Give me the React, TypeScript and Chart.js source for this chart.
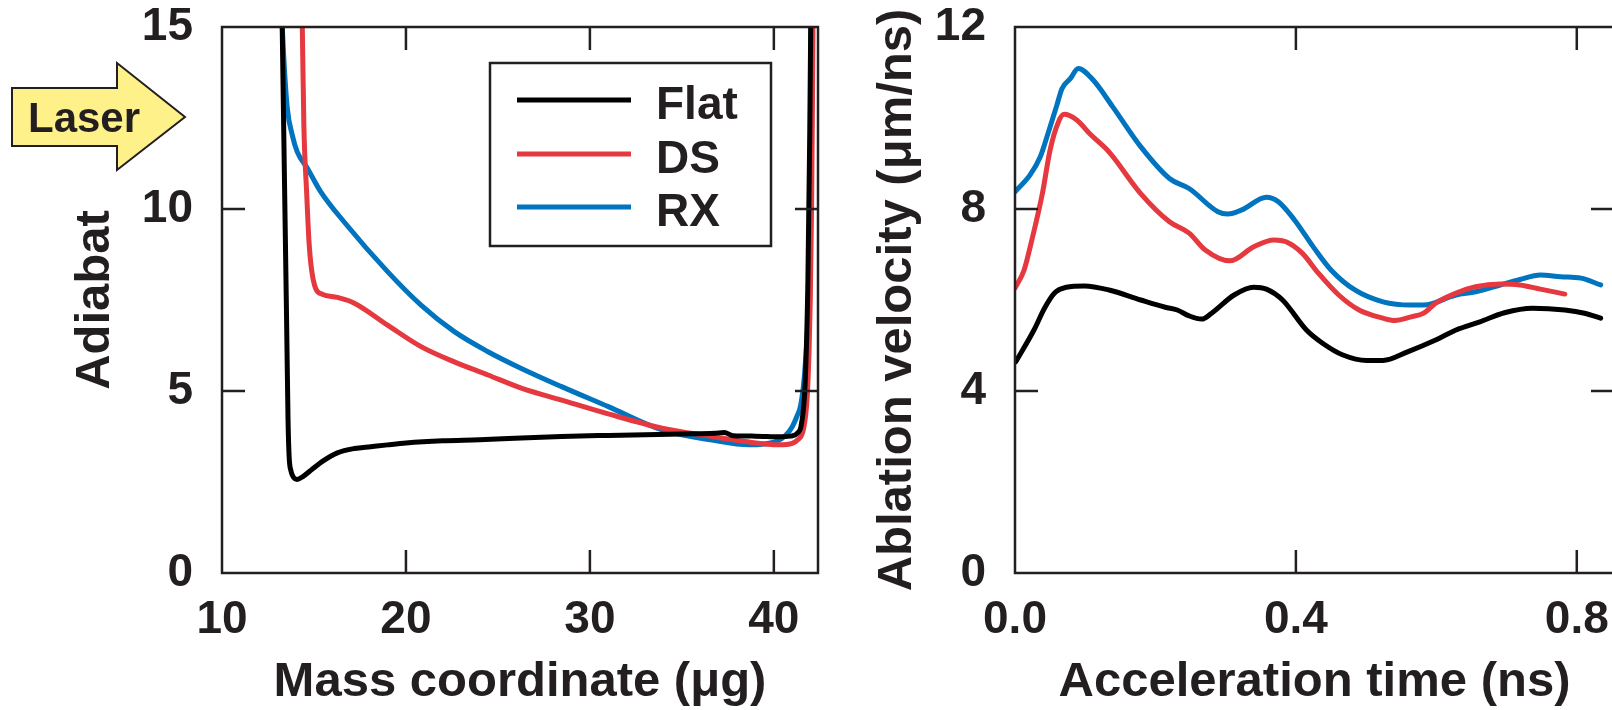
import React, { useEffect, useRef } from "react";
import { Chart, registerables } from "chart.js";

Chart.register(...registerables);

const INK = "#231F20";
const FONT = "'Liberation Sans', Arial, Helvetica, sans-serif";

// ---------- Left panel: adiabat vs mass coordinate ----------
const flatMass = [13.25, 13.39, 13.51, 13.59, 13.65, 13.75, 13.9, 14.08, 14.4, 14.9, 15.5, 16.27, 17.2, 18.09, 19.0, 20.0, 22.0, 24.0, 26.27, 28.46, 31.0, 33.0, 35.0, 36.8, 37.3, 37.8, 39.0, 40.3, 40.9, 41.3, 41.5, 41.7, 41.85, 41.95, 42.02];
const flatAdiabat = [15.8, 11.0, 7.0, 4.2, 3.2, 2.8, 2.62, 2.57, 2.65, 2.85, 3.08, 3.3, 3.42, 3.47, 3.52, 3.57, 3.63, 3.66, 3.71, 3.75, 3.78, 3.8, 3.82, 3.84, 3.86, 3.77, 3.76, 3.74, 3.76, 3.85, 4.1, 5.2, 8.0, 12.0, 16.0];

const dsMass = [14.36, 14.45, 14.6, 14.73, 14.86, 15.09, 15.45, 16.27, 17.17, 19.0, 20.82, 22.63, 24.46, 26.27, 28.46, 31.0, 33.92, 36.64, 38.44, 40.28, 41.0, 41.3, 41.56, 41.72, 41.82, 41.92, 41.98, 42.05, 42.1, 42.14];
const dsAdiabat = [15.2, 12.3, 10.47, 9.1, 8.37, 7.82, 7.66, 7.57, 7.42, 6.81, 6.22, 5.8, 5.44, 5.08, 4.75, 4.37, 3.98, 3.75, 3.61, 3.52, 3.56, 3.66, 3.85, 4.3, 4.9, 6.2, 7.5, 10.0, 13.0, 16.0];

const rxMass = [13.25, 13.36, 13.55, 13.82, 14.09, 14.64, 15.36, 16.63, 19.0, 20.82, 22.63, 24.46, 26.27, 28.46, 31.0, 33.92, 36.64, 38.64, 40.1, 40.6, 41.0, 41.25, 41.44, 41.6, 41.7, 41.82, 41.9, 41.96, 42.0, 42.03];
const rxAdiabat = [15.3, 14.14, 12.77, 12.03, 11.57, 11.12, 10.48, 9.65, 8.28, 7.36, 6.63, 6.08, 5.62, 5.12, 4.57, 3.93, 3.65, 3.52, 3.61, 3.76, 4.02, 4.3, 4.57, 5.1, 5.67, 6.6, 7.5, 10.0, 13.0, 16.0];

// ---------- Right panel: ablation velocity vs acceleration time ----------
const flatTime = [0.001, 0.027, 0.042, 0.056, 0.073, 0.099, 0.134, 0.179, 0.214, 0.231, 0.248, 0.266, 0.28, 0.312, 0.34, 0.358, 0.381, 0.415, 0.438, 0.467, 0.501, 0.524, 0.559, 0.599, 0.628, 0.662, 0.697, 0.737, 0.783, 0.811, 0.834];
const flatVelocity = [4.64, 5.34, 5.82, 6.15, 6.28, 6.31, 6.22, 6.0, 5.84, 5.78, 5.65, 5.58, 5.71, 6.11, 6.28, 6.24, 6.0, 5.34, 5.05, 4.79, 4.67, 4.67, 4.86, 5.12, 5.34, 5.52, 5.72, 5.82, 5.78, 5.71, 5.6];

const dsTime = [0, 0.013, 0.024, 0.039, 0.05, 0.062, 0.07, 0.0875, 0.108, 0.1335, 0.179, 0.22, 0.248, 0.271, 0.306, 0.34, 0.369, 0.386, 0.409, 0.432, 0.461, 0.49, 0.524, 0.541, 0.564, 0.582, 0.599, 0.628, 0.656, 0.691, 0.719, 0.748, 0.783];
const dsVelocity = [6.26, 6.66, 7.32, 8.34, 9.3, 9.92, 10.08, 9.96, 9.63, 9.26, 8.34, 7.72, 7.47, 7.1, 6.86, 7.17, 7.32, 7.28, 7.03, 6.59, 6.11, 5.78, 5.6, 5.55, 5.63, 5.71, 5.93, 6.15, 6.29, 6.35, 6.33, 6.24, 6.13];

const rxTime = [0, 0.0215, 0.036, 0.047, 0.059, 0.067, 0.079, 0.09, 0.111, 0.139, 0.179, 0.22, 0.248, 0.289, 0.303, 0.323, 0.358, 0.375, 0.398, 0.426, 0.45, 0.484, 0.524, 0.564, 0.582, 0.628, 0.656, 0.691, 0.719, 0.748, 0.777, 0.806, 0.834];
const rxVelocity = [8.38, 8.75, 9.15, 9.66, 10.25, 10.65, 10.87, 11.09, 10.84, 10.25, 9.37, 8.67, 8.45, 7.94, 7.89, 7.98, 8.26, 8.16, 7.76, 7.14, 6.66, 6.22, 5.96, 5.89, 5.89, 6.11, 6.18, 6.33, 6.45, 6.55, 6.51, 6.48, 6.33];

const seriesLabels = ["Flat", "DS", "RX"];
const seriesColors = ["#000000", "#E5383F", "#0074BE"];

const zip = (xs: number[], ys: number[]) => xs.map((x, i) => ({ x, y: ys[i] }));

const makeDatasets = (pairs: [number[], number[]][]) =>
  pairs.map(([xs, ys], i) => ({
    label: seriesLabels[i],
    data: zip(xs, ys),
    borderColor: seriesColors[i],
    backgroundColor: seriesColors[i],
    borderWidth: 5,
    pointRadius: 0,
    fill: false,
    tension: 0.4,
    cubicInterpolationMode: "monotone" as const,
    borderCapStyle: "round" as const,
    borderJoinStyle: "round" as const,
  }));

const framePlugin = {
  id: "frame",
  afterDatasetsDraw(chart: any) {
    const { ctx, chartArea: a, scales } = chart;
    ctx.save();
    ctx.strokeStyle = INK;
    ctx.lineWidth = 2.5;
    const L = 23;
    ctx.beginPath();
    for (const t of scales.x.ticks) {
      const px = scales.x.getPixelForValue(t.value);
      if (px <= a.left + 2 || px >= a.right - 2) continue;
      ctx.moveTo(px, a.bottom);
      ctx.lineTo(px, a.bottom - L);
      ctx.moveTo(px, a.top);
      ctx.lineTo(px, a.top + L);
    }
    for (const t of scales.y.ticks) {
      const py = scales.y.getPixelForValue(t.value);
      if (py <= a.top + 2 || py >= a.bottom - 2) continue;
      ctx.moveTo(a.left, py);
      ctx.lineTo(a.left + L, py);
      ctx.moveTo(a.right, py);
      ctx.lineTo(a.right - L, py);
    }
    ctx.stroke();
    ctx.strokeRect(a.left, a.top, a.right - a.left, a.bottom - a.top);
    ctx.restore();
  },
};

const legendPlugin = {
  id: "boxLegend",
  afterDraw(chart: any) {
    const { ctx } = chart;
    ctx.save();
    ctx.fillStyle = "#ffffff";
    ctx.fillRect(490, 63, 281, 183);
    ctx.strokeStyle = INK;
    ctx.lineWidth = 2.5;
    ctx.strokeRect(490, 63, 281, 183);
    const rows = [100, 154, 207];
    chart.data.datasets.forEach((ds: any, i: number) => {
      ctx.strokeStyle = ds.borderColor;
      ctx.lineWidth = 5;
      ctx.beginPath();
      ctx.moveTo(517, rows[i]);
      ctx.lineTo(631, rows[i]);
      ctx.stroke();
      ctx.fillStyle = INK;
      ctx.font = `bold 46px ${FONT}`;
      ctx.textAlign = "left";
      ctx.textBaseline = "alphabetic";
      ctx.fillText(ds.label, 656, rows[i] + 19);
    });
    ctx.restore();
  },
};

const laserPlugin = {
  id: "laser",
  afterDraw(chart: any) {
    const { ctx } = chart;
    ctx.save();
    ctx.beginPath();
    ctx.moveTo(12, 88);
    ctx.lineTo(117, 88);
    ctx.lineTo(117, 63);
    ctx.lineTo(185, 117);
    ctx.lineTo(117, 170);
    ctx.lineTo(117, 146);
    ctx.lineTo(12, 146);
    ctx.closePath();
    ctx.fillStyle = "#FFF18A";
    ctx.fill();
    ctx.strokeStyle = INK;
    ctx.lineWidth = 2;
    ctx.stroke();
    ctx.fillStyle = INK;
    ctx.font = `bold 42px ${FONT}`;
    ctx.textAlign = "left";
    ctx.textBaseline = "alphabetic";
    ctx.fillText("Laser", 28, 132);
    ctx.restore();
  },
};

const tickFont = { family: FONT, size: 46, weight: "bold" as const, lineHeight: 1 };
const titleFont = { family: FONT, size: 49, weight: "bold" as const, lineHeight: 1 };

function buildOptions(cfg: {
  xMin: number; xMax: number; xStep: number; yMax: number; yStep: number;
  xTitle: string; yTitle: string; yAxisWidth: number; rightPad: number; yTitlePad: number;
  xFmt: (v: number) => string;
}) {
  return {
    responsive: false,
    animation: false as const,
    devicePixelRatio: 1,
    layout: { autoPadding: false, padding: { top: 27, right: cfg.rightPad, left: 0, bottom: 0 } },
    plugins: { legend: { display: false }, tooltip: { enabled: false } },
    scales: {
      x: {
        type: "linear" as const,
        min: cfg.xMin,
        max: cfg.xMax,
        grid: { display: false, drawTicks: false },
        border: { display: false },
        ticks: {
          stepSize: cfg.xStep,
          includeBounds: false,
          padding: 24,
          color: INK,
          font: tickFont,
          maxRotation: 0,
          autoSkip: false,
          callback: (v: any) => cfg.xFmt(Number(v)),
        },
        title: { display: true, text: cfg.xTitle, color: INK, font: titleFont, padding: { top: 0, bottom: 3 } },
        afterFit: (s: any) => {
          s.height = 137;
          s.paddingLeft = 0;
          s.paddingRight = 0;
        },
      },
      y: {
        type: "linear" as const,
        min: 0,
        max: cfg.yMax,
        grid: { display: false, drawTicks: false },
        border: { display: false },
        ticks: {
          stepSize: cfg.yStep,
          includeBounds: false,
          padding: 29,
          color: INK,
          font: tickFont,
          autoSkip: false,
          callback: (v: any) => String(v),
        },
        title: { display: true, text: cfg.yTitle, color: INK, font: titleFont, padding: { top: cfg.yTitlePad, bottom: 0 } },
        afterFit: (s: any) => {
          s.width = cfg.yAxisWidth;
          s.paddingTop = 0;
          s.paddingBottom = 0;
        },
      },
    },
  };
}

export default function App() {
  const leftRef = useRef<HTMLCanvasElement>(null);
  const rightRef = useRef<HTMLCanvasElement>(null);

  useEffect(() => {
    const left = new Chart(leftRef.current as HTMLCanvasElement, {
      type: "line",
      data: {
        datasets: makeDatasets([
          [flatMass, flatAdiabat],
          [dsMass, dsAdiabat],
          [rxMass, rxAdiabat],
        ]) as any,
      },
      options: buildOptions({
        xMin: 10, xMax: 42.4, xStep: 10, yMax: 15, yStep: 5,
        xTitle: "Mass coordinate (\u03bcg)", yTitle: "Adiabat",
        yAxisWidth: 222, rightPad: 22, yTitlePad: 71,
        xFmt: (v) => String(v),
      }) as any,
      plugins: [framePlugin, legendPlugin, laserPlugin],
    });

    const right = new Chart(rightRef.current as HTMLCanvasElement, {
      type: "line",
      data: {
        datasets: makeDatasets([
          [flatTime, flatVelocity],
          [dsTime, dsVelocity],
          [rxTime, rxVelocity],
        ]) as any,
      },
      options: buildOptions({
        xMin: 0, xMax: 0.853, xStep: 0.4, yMax: 12, yStep: 4,
        xTitle: "Acceleration time (ns)", yTitle: "Ablation velocity (\u03bcm/ns)",
        yAxisWidth: 175, rightPad: 6, yTitlePad: 33,
        xFmt: (v) => v.toFixed(1),
      }) as any,
      plugins: [framePlugin],
    });

    return () => {
      left.destroy();
      right.destroy();
    };
  }, []);

  return (
    <div style={{ position: "fixed", left: 0, top: 0, width: 1612, height: 710, overflow: "hidden", background: "#ffffff" }}>
      <canvas ref={leftRef} width={840} height={710} style={{ position: "absolute", left: 0, top: 0 }} />
      <canvas ref={rightRef} width={780} height={710} style={{ position: "absolute", left: 840, top: 0 }} />
    </div>
  );
}
